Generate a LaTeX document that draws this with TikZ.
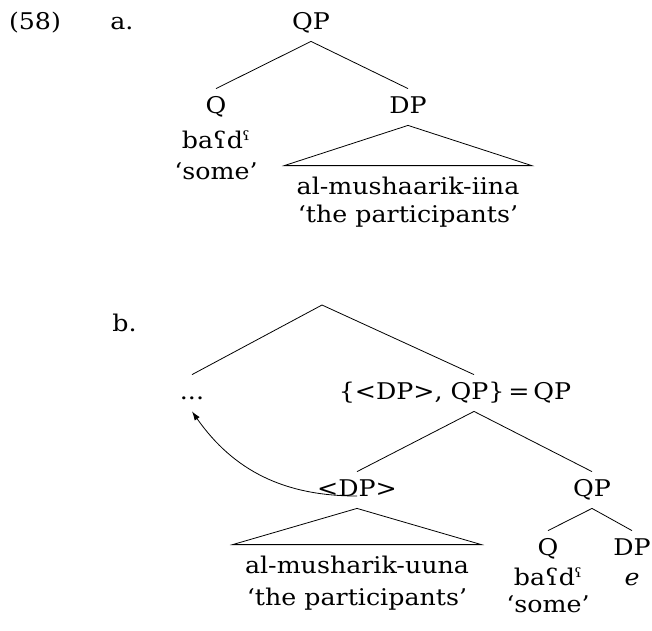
\documentclass[tikz,border=0pt]{standalone}
\usepackage{fontspec}
\setmainfont{DejaVu Serif}[FakeStretch=1.1]
\usetikzlibrary{arrows.meta}
\begin{document}
\begin{tikzpicture}[x=1pt,y=-1pt,line width=0.8pt,
    every node/.style={font=\fontsize{23}{28}\selectfont, inner sep=0pt, anchor=base},
    cat/.style={text height=17pt, text depth=5pt, inner ysep=7pt},
    yield/.style={text height=17pt, inner xsep=12pt, inner ysep=11pt}]
\useasboundingbox (0,0) rectangle (652,630);
% (58a)
\node (num) at (35,29) {(58)};
\node[anchor=base west] (labela) at (110,29) {a.};
\node[cat] (qpa) at (311,29) {QP};
\node[cat] (qa) at (216,113) {Q};
\node (wda) at (216,148) {baʕdˤ};
\node (gla) at (216,179) {‘some’};
\node[cat] (dpa) at (408,113) {DP};
\node[yield] (ya) at (408,194) {al-mushaarik-iina};
\node (yga) at (408,222) {‘the participants’};
\draw (qpa.south) -- (qa.north);
\draw (qpa.south) -- (dpa.north);
\draw (dpa.south) -- (ya.north west) -- (ya.north east) -- cycle;
% (58b)
\node[anchor=base west] (labelb) at (112,331) {b.};
\coordinate (root) at (322,305);
\node[cat] (dots) at (192,399) {...};
\node[cat] (qpset) at (455,399) {\{<DP>, QP\}\,=\,QP};
\node[cat] (dpt) at (357,496) {<DP>};
\node[cat] (qpb) at (592,496) {QP};
\node[yield] (yb) at (357,573) {al-musharik-uuna};
\node (ygb) at (357,605) {‘the participants’};
\node[cat] (qb) at (548,555) {Q};
\node (wdb) at (548,585) {baʕdˤ};
\node (glb) at (548,612) {‘some’};
\node[cat] (dpb) at (632,555) {DP};
\node (eb) at (632,585) {\textit{e}};
\draw (root) -- (dots.north);
\draw (root) -- ([xshift=19pt]qpset.north);
\draw ([xshift=19pt]qpset.south) -- (dpt.north);
\draw ([xshift=19pt]qpset.south) -- (qpb.north);
\draw (dpt.south) -- (yb.north west) -- (yb.north east) -- cycle;
\draw (qpb.south) -- (qb.north);
\draw (qpb.south) -- (dpb.north);
\draw[-{Latex[length=9pt,width=6pt]}] (dpt.base) to[out=180,in=-55] (dots.south);
\end{tikzpicture}
\end{document}
